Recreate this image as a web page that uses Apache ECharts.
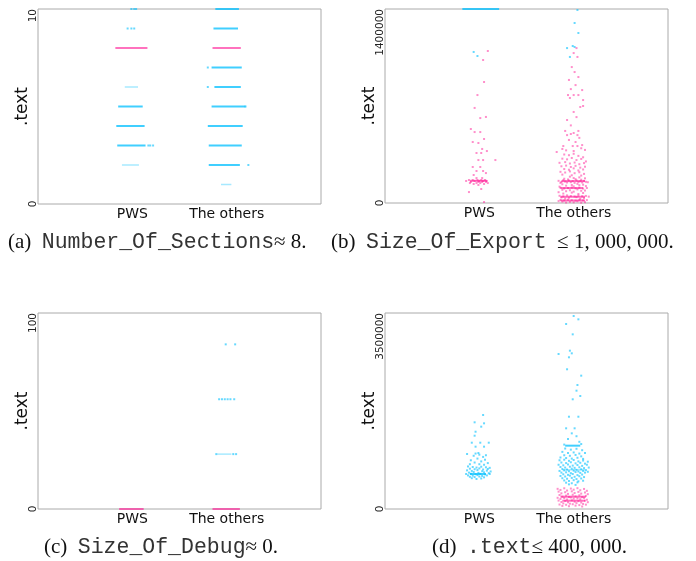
<!DOCTYPE html>
<html><head><meta charset="utf-8">
<script src="https://cdn.jsdelivr.net/npm/echarts/dist/echarts.min.js"></script>
<style>html,body{margin:0;padding:0;background:#fff}#c{width:696px;height:561px}</style>
</head><body><div id="c"></div>
<script>
// ---------- shared ----------
const categories = ['PWS', 'The others'];
const yAxisName = '.text';
const captions = [
  ['(a)  ', 'Number_Of_Sections', '≈ 8.'],
  ['(b)  ', 'Size_Of_Export', '  ≤ 1, 000, 000.'],
  ['(c)  ', 'Size_Of_Debug', '≈ 0.'],
  ['(d)  ', '.text', '≤ 400, 000.']
];
const yMax = [10, 1400000, 100, 3500000];
const yTicks = [[0, 10], [0, 1400000], [0, 100], [0, 3500000]];

// Items: dots = [category, jitter, value]; bands = [category, value, jitterFrom, jitterTo]
// ---------- (a) Number_Of_Sections ----------
const secCyanBands = [[0,5,-0.15,0.11],[0,4,-0.17,0.13],[0,3,-0.16,0.14],
  [1,10,-0.12,0.13],[1,9,-0.14,0.12],[1,7,-0.16,0.16],[1,6,-0.13,0.15],[1,5,-0.16,0.2],[1,4,-0.2,0.17],[1,3,-0.19,0.16],[1,2,-0.19,0.14]];
const secCyanLight = [[0,6,-0.08,0.06],[0,2,-0.11,0.07],[1,1,-0.06,0.05]];
const secPinkBands = [[0,8,-0.18,0.16],[1,8,-0.15,0.15]];
const secCyanDots = [[0,-0.01,10],[0,0.02,10],[0,0.04,10],[0,-0.05,9],[0,-0.01,9],[0,0.02,9],
  [0,0.17,3],[0,0.19,3],[0,0.22,3],[1,-0.2,7],[1,-0.2,6],[1,0.2,5],[1,0.23,2]];
const secPinkDots = [];

// ---------- (b) Size_Of_Export (values in thousands) ----------
const expCyanBands = [[0,1400,-0.18,0.21]];
const expCyanLight = [];
const expPinkBands = [[1,158,-0.13,0.12],[1,108,-0.14,0.1],[1,45,-0.14,0.12],[1,18,-0.14,0.12],[0,160,-0.1,0.08]];
const expCyanDots = [[0,-0.06,1090],[0,-0.02,1061],
  [1,0.04,1393],[1,0.01,1299],[1,0.05,1227],[1,0.01,1126],[1,-0.07,1118],[1,-0.04,1054],[1,-0.01,1133]];
const expPinkDots = [
  [0,0.09,1097],[0,0.04,1032],[0,0.05,873],[0,-0.02,779],[0,-0.05,686],[0,0.01,613],[0,0.07,621],[0,-0.09,534],
  [0,-0.05,512],[0,0.01,512],[0,0.05,462],[0,-0.07,440],[0,-0.01,433],[0,0.03,390],[0,0.02,361],[0,0.08,375],
  [0,-0.03,361],[0,0.17,310],[0,-0.01,310],[0,0.04,310],[0,-0.07,260],[0,0.01,260],[0,0.04,231],[0,-0.03,231],
  [0,-0.06,202],[0,0.07,216],[0,-0.14,159],[0,-0.11,166],[0,-0.09,152],[0,-0.07,166],[0,-0.05,159],[0,-0.03,144],
  [0,-0.02,166],[0,-0.01,152],[0,0,159],[0,0.01,144],[0,0.02,166],[0,0.03,152],[0,0.04,159],[0,0.05,137],
  [0,0.06,166],[0,0.07,152],[0,0.08,159],[0,0.09,144],[0,-0.06,137],[0,-0.01,130],[0,0.03,180],[0,-0.03,180],
  [0,-0.1,144],[0,-0.11,79],[0,0.02,101],[0,0.05,7],
  [1,0.03,1118],[1,0,1082],[1,0.04,1054],[1,-0.02,981],[1,0.01,945],[1,-0.05,888],[1,0.05,909],[1,0.02,851],
  [1,-0.03,822],[1,-0.06,779],[1,0,779],[1,0.05,779],[1,0.09,815],[1,0.1,743],[1,-0.04,758],[1,0.07,693],
  [1,0.1,700],[1,0,657],[1,-0.07,599],[1,0.03,620],[1,-0.03,560],[1,-0.09,520],[1,0,505],[1,0.04,490],
  [1,0.05,520],[1,-0.07,490],[1,-0.03,498],[1,0.06,470],[1,-0.11,411],[1,-0.01,411],[1,0.04,411],[1,0.09,418],
  [1,-0.18,368],[1,-0.12,390],[1,0.02,440],[1,-0.05,455],[1,0.08,395],[1,-0.08,380],[1,0,375],[1,0.12,383],
  [1,-0.1,350],[1,-0.05,345],[1,0,355],[1,0.05,340],[1,0.1,330],[1,-0.12,320],[1,-0.07,315],[1,-0.02,325],
  [1,0.03,310],[1,0.08,318],[1,0.13,300],[1,-0.15,290],[1,-0.09,295],[1,-0.04,285],[1,0.01,292],[1,0.06,280],
  [1,0.11,288],[1,-0.13,265],[1,-0.08,270],[1,-0.03,260],[1,0.02,268],[1,0.07,255],[1,0.12,262],[1,-0.1,245],
  [1,-0.05,240],[1,0,250],[1,0.05,235],[1,0.1,242],[1,-0.14,225],[1,-0.09,220],[1,-0.04,228],[1,0.01,215],
  [1,0.06,222],[1,0.11,210],[1,-0.12,205],[1,-0.02,200],[1,0.08,198],
  [1,-0.16,160],[1,-0.13,152],[1,-0.11,165],[1,-0.09,155],[1,-0.07,148],[1,-0.05,162],[1,-0.03,150],[1,-0.01,158],
  [1,0.01,145],[1,0.03,163],[1,0.05,152],[1,0.07,157],[1,0.09,148],[1,0.11,160],[1,0.13,153],[1,0.15,150],
  [1,-0.14,145],[1,-0.06,170],[1,0.02,172],[1,0.08,168],[1,-0.1,175],[1,0,180],[1,0.06,185],[1,-0.04,190],
  [1,0.12,178],[1,-0.12,135],[1,-0.02,130],[1,0.04,138],[1,0.1,132],[1,-0.08,125],[1,0,120],[1,0.06,128],
  [1,-0.15,118],[1,0.13,122],[1,-0.14,110],[1,-0.1,105],[1,-0.06,108],[1,-0.02,112],[1,0.02,106],[1,0.06,110],
  [1,0.1,104],[1,0.14,108],[1,-0.12,95],[1,-0.04,92],[1,0.04,98],[1,0.12,90],[1,-0.08,85],[1,0,82],
  [1,0.08,88],[1,-0.16,78],[1,-0.02,75],[1,0.1,72],[1,-0.11,68],[1,0.05,65],[1,-0.15,52],[1,-0.11,48],
  [1,-0.07,55],[1,-0.03,50],[1,0.01,47],[1,0.05,53],[1,0.09,49],[1,0.13,51],[1,0.16,46],[1,-0.13,40],
  [1,-0.05,38],[1,0.03,42],[1,0.11,36],[1,-0.09,32],[1,0.07,30],[1,-0.14,22],[1,-0.1,18],[1,-0.06,24],
  [1,-0.02,20],[1,0.02,17],[1,0.06,23],[1,0.1,19],[1,0.14,21],[1,-0.12,10],[1,-0.04,8],[1,0.04,12],
  [1,0.12,6],[1,-0.08,3],[1,0,5],[1,0.08,2],[1,-0.16,14]
];

// ---------- (c) Size_Of_Debug ----------
const dbgCyanBands = [];
const dbgCyanLight = [[1,28,-0.1,0.05]];
const dbgPinkBands = [[0,0,-0.14,0.12],[1,0,-0.15,0.14]];
const dbgCyanDots = [[1,-0.01,84],[1,0.09,84],[1,-0.08,56],[1,-0.05,56],[1,-0.02,56],[1,0.01,56],[1,0.04,56],[1,0.08,56],
  [1,-0.11,28],[1,0.07,28],[1,0.1,28]];
const dbgPinkDots = [];

// ---------- (d) .text (values in thousands) ----------
const txtCyanBands = [[0,625,-0.1,0.07],[1,1131,-0.09,0.07]];
const txtCyanLight = [[1,700,-0.12,0.12]];
const txtPinkBands = [[1,220,-0.14,0.13],[1,148,-0.12,0.12]];
const txtCyanDots = [
  [0,0.04,1679],[0,-0.05,1548],[0,0.05,1530],[0,0.02,1470],[0,-0.04,1380],[0,-0.05,1309],[0,-0.08,1184],[0,0.01,1184],
  [0,0.1,1184],[0,-0.04,1113],[0,0.05,1113],[0,-0.13,982],[0,-0.04,990],[0,-0.01,1000],[0,0,970],[0,-0.06,950],
  [0,0.04,930],[0,0.07,960],[0,-0.02,900],[0,0.06,880],[0,-0.09,870],[0,0.02,850],[0,-0.05,830],[0,0.09,820],
  [0,-0.1,800],[0,0,800],[0,0.05,790],[0,-0.12,760],[0,-0.07,750],[0,-0.03,740],[0,0.02,755],[0,0.07,745],
  [0,0.11,735],[0,-0.1,720],[0,-0.05,710],[0,0,725],[0,0.04,705],[0,0.09,715],[0,-0.13,690],[0,-0.08,680],
  [0,-0.02,695],[0,0.03,675],[0,0.08,685],[0,0.12,670],[0,-0.11,650],[0,-0.06,660],[0,-0.01,645],[0,0.05,655],
  [0,0.1,640],[0,-0.14,625],[0,-0.09,630],[0,-0.04,620],[0,0.01,628],[0,0.06,618],[0,0.11,625],[0,-0.12,600],
  [0,-0.07,595],[0,-0.02,605],[0,0.03,590],[0,0.08,600],[0,-0.1,575],[0,-0.05,570],[0,0,580],[0,0.05,565],
  [0,-0.08,550],[0,0.02,545],[0,-0.03,536],
  [1,0,3446],[1,0.05,3387],[1,-0.08,3304],[1,-0.01,3119],[1,-0.16,2768],[1,-0.04,2827],[1,-0.02,2780],[1,-0.05,2709],
  [1,-0.07,2495],[1,0.08,2381],[1,0.04,2214],[1,0.03,2113],[1,0.07,2018],[1,-0.01,1959],[1,-0.05,1648],[1,0.05,1648],
  [1,0.01,1441],[1,-0.08,1441],[1,-0.02,1351],[1,0.03,1300],[1,-0.06,1250],[1,0.06,1200],[1,-0.1,1150],[1,0.08,1160],
  [1,-0.09,1080],[1,-0.03,1060],[1,0.03,1075],[1,0.09,1050],[1,-0.12,1020],[1,-0.06,1000],[1,0,1010],[1,0.06,990],
  [1,0.12,1000],[1,-0.1,960],[1,-0.04,950],[1,0.02,965],[1,0.08,940],[1,-0.14,920],[1,-0.08,910],[1,-0.02,900],
  [1,0.04,915],[1,0.1,895],[1,-0.15,870],[1,-0.1,880],[1,-0.05,860],[1,0,875],[1,0.05,850],[1,0.1,865],
  [1,0.15,845],[1,-0.13,830],[1,-0.08,820],[1,-0.03,835],[1,0.02,815],[1,0.07,825],[1,0.12,810],[1,-0.16,790],
  [1,-0.11,780],[1,-0.06,795],[1,-0.01,775],[1,0.04,785],[1,0.09,770],[1,0.14,790],[1,-0.14,750],[1,-0.09,740],
  [1,-0.04,755],[1,0.01,735],[1,0.06,745],[1,0.11,730],[1,0.16,740],[1,-0.12,715],[1,-0.07,705],[1,-0.02,720],
  [1,0.03,700],[1,0.08,710],[1,0.13,695],[1,-0.15,680],[1,-0.1,690],[1,-0.05,675],[1,0,685],[1,0.05,670],
  [1,0.1,680],[1,0.15,665],[1,-0.13,650],[1,-0.08,655],[1,-0.03,640],[1,0.02,660],[1,0.07,645],[1,0.12,650],
  [1,-0.11,620],[1,-0.06,610],[1,-0.01,625],[1,0.04,605],[1,0.09,615],[1,-0.14,590],[1,-0.09,580],[1,-0.04,595],
  [1,0.01,575],[1,0.06,585],[1,0.11,570],[1,-0.12,550],[1,-0.07,540],[1,-0.02,555],[1,0.03,535],[1,0.08,545],
  [1,-0.1,510],[1,-0.05,500],[1,0,515],[1,0.05,495],[1,0.1,505],[1,-0.08,470],[1,-0.02,460],[1,0.04,475],
  [1,-0.05,440],[1,0.02,430]
];
const txtPinkDots = [
  [1,-0.17,360],[1,-0.1,370],[1,-0.03,365],[1,0.04,372],[1,0.11,358],[1,-0.14,340],[1,-0.07,330],[1,0,345],
  [1,0.07,335],[1,0.14,325],[1,-0.16,310],[1,-0.09,300],[1,-0.02,315],[1,0.05,305],[1,0.12,295],[1,-0.13,280],
  [1,-0.06,270],[1,0.01,285],[1,0.08,275],[1,0.15,265],[1,-0.15,250],[1,-0.08,240],[1,-0.01,255],[1,0.06,245],
  [1,0.13,235],[1,-0.12,220],[1,-0.05,215],[1,0.02,225],[1,0.09,212],[1,-0.17,200],[1,-0.1,195],[1,-0.03,205],
  [1,0.04,190],[1,0.11,198],[1,-0.14,180],[1,-0.07,170],[1,0,185],[1,0.07,175],[1,0.14,165],[1,-0.16,150],
  [1,-0.09,145],[1,-0.02,155],[1,0.05,140],[1,0.12,148],[1,-0.13,125],[1,-0.06,120],[1,0.01,130],[1,0.08,115],
  [1,0.15,122],[1,-0.11,100],[1,-0.04,95],[1,0.03,105],[1,0.1,90],[1,-0.15,80],[1,-0.08,75],[1,-0.01,85],
  [1,0.06,70],[1,0.13,78],[1,-0.12,55],[1,-0.05,50],[1,0.02,60],[1,0.09,45]
];

// ---------- build ----------
const CYAN = 'rgba(0,191,255,0.75)';
const CYAN_L = 'rgba(0,191,255,0.35)';
const PINK = 'rgba(255,20,147,0.6)';
const panels = [
  {grid:{left:38, top:9, width:283, height:195}, unit:1, cb:secCyanBands, cl:secCyanLight, pb:secPinkBands, cd:secCyanDots, pd:secPinkDots},
  {grid:{left:385, top:9, width:283, height:194}, unit:1000, cb:expCyanBands, cl:expCyanLight, pb:expPinkBands, cd:expCyanDots, pd:expPinkDots},
  {grid:{left:38, top:313, width:283, height:196}, unit:1, cb:dbgCyanBands, cl:dbgCyanLight, pb:dbgPinkBands, cd:dbgCyanDots, pd:dbgPinkDots},
  {grid:{left:385, top:313, width:283, height:196}, unit:1000, cb:txtCyanBands, cl:txtCyanLight, pb:txtPinkBands, cd:txtCyanDots, pd:txtPinkDots}
];

const grids = [], xAxes = [], yAxes = [], series = [];
function bandSeries(i, bands, unit, color, width) {
  return {
    type: 'custom', xAxisIndex: i, yAxisIndex: i, clip: false, silent: true,
    data: bands.map(b => [b[0] + b[2], b[1] * unit, b[0] + b[3]]),
    encode: {x: [0, 2], y: 1},
    renderItem: function (params, api) {
      const p1 = api.coord([api.value(0), api.value(1)]);
      const p2 = api.coord([api.value(2), api.value(1)]);
      return {type: 'line', shape: {x1: p1[0], y1: p1[1], x2: p2[0], y2: p2[1]},
        style: {stroke: color, lineWidth: width}};
    }
  };
}
function dotSeries(i, dots, unit, color) {
  return {
    type: 'scatter', xAxisIndex: i, yAxisIndex: i, symbol: 'rect', symbolSize: 2, silent: true,
    itemStyle: {color: color}, clip: false,
    data: dots.map(d => [d[0] + d[1], d[2] * unit])
  };
}
panels.forEach((p, i) => {
  grids.push(Object.assign({show: true, borderColor: '#aaaaaa', borderWidth: 1, backgroundColor: '#fff', containLabel: false}, p.grid));
  xAxes.push({
    gridIndex: i, type: 'value', min: -1, max: 2, interval: 1,
    axisLine: {show: false}, axisTick: {show: false}, splitLine: {show: false},
    axisLabel: {margin: 3, fontSize: 14, color: '#111', fontFamily: 'DejaVu Sans',
      formatter: v => (v === 0 ? categories[0] : v === 1 ? categories[1] : '')}
  });
  yAxes.push({
    gridIndex: i, type: 'value', min: yTicks[i][0], max: yMax[i], interval: yTicks[i][1],
    name: yAxisName, nameLocation: 'middle', nameRotate: 90, nameGap: 7, nameMoveOverlap: false,
    nameTextStyle: {fontSize: 17, color: '#111', fontFamily: 'DejaVu Sans', verticalAlign: 'bottom'},
    axisLine: {show: false}, axisTick: {show: false}, splitLine: {show: false},
    axisLabel: {rotate: 90, margin: -1, fontSize: 10.5, color: '#222', fontFamily: 'DejaVu Sans',
      alignMaxLabel: 'right', formatter: v => String(v)}
  });
  series.push(bandSeries(i, p.cl, p.unit, CYAN_L, 1.5));
  series.push(bandSeries(i, p.cb, p.unit, CYAN, 2));
  series.push(bandSeries(i, p.pb, p.unit, PINK, 2));
  series.push(dotSeries(i, p.cd, p.unit, CYAN));
  series.push(dotSeries(i, p.pd, p.unit, PINK));
});

const capPos = [[8, 231], [331, 231], [44, 536], [432, 536]];
const graphic = captions.map((c, i) => ({
  type: 'text', left: capPos[i][0], top: capPos[i][1],
  style: {
    text: '{s|' + c[0] + '}{m|' + c[1] + '}{s|' + c[2] + '}',
    rich: {
      s: {fontFamily: 'Liberation Serif', fontSize: 21, fill: '#111', color: '#111'},
      m: {fontFamily: 'Liberation Mono', fontSize: 21.5, fill: '#333', color: '#333'}
    }
  }
}));

const chart = echarts.init(document.getElementById('c'), null, {renderer: 'canvas'});
chart.setOption({animation: false, backgroundColor: '#fff', grid: grids, xAxis: xAxes, yAxis: yAxes, series: series, graphic: graphic});
</script>
</body></html>
